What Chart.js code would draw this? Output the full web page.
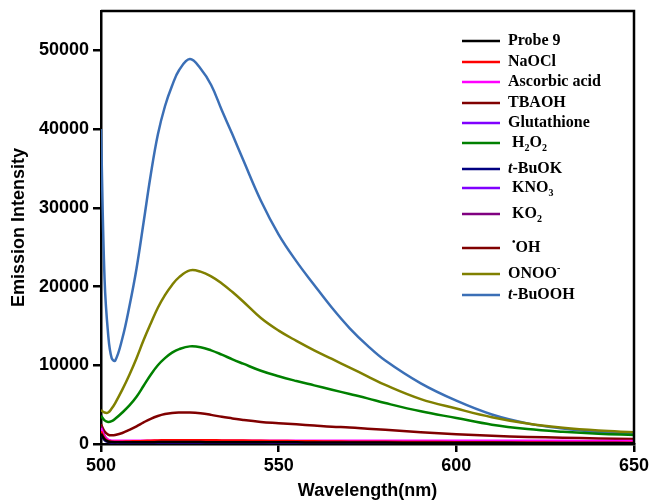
<!DOCTYPE html>
<html>
<head>
<meta charset="utf-8">
<script src="https://cdn.jsdelivr.net/npm/chart.js@4"></script>
<style>
html,body{margin:0;padding:0;background:#fff}
</style>
</head>
<body>
<canvas id="chart" width="649" height="502"></canvas>
<script>

// emission spectra, wavelength in nm
const wavelengths=[500,501,502,503,504,506,508,510,512,514,516,518,520,522,525,528,531,534,537,540,545,550,555,560,565,570,575,580,590,600,610,620,630,640,650]

const probe9=[1300,600,320,250,230,220,220,220,230,230,240,240,240,240,240,240,230,230,230,220,220,210,210,200,200,190,190,180,170,160,150,140,130,120,110]
const naocl=[1600,700,380,300,290,300,320,350,380,420,450,470,480,490,490,480,470,460,440,430,400,380,360,340,320,300,290,270,250,230,210,190,170,160,150]
const ascorbicAcid=[2000,900,520,420,400,400,400,410,410,420,420,420,420,420,420,420,420,420,420,420,420,420,420,420,410,410,410,410,410,400,400,400,400,390,390]
const tbaoh=[1800,800,400,320,300,300,300,300,310,310,310,310,310,310,310,310,300,300,300,300,290,290,280,280,270,270,260,260,250,240,230,220,210,200,190]
const glutathione=[1500,650,330,260,240,240,240,240,240,240,250,250,250,250,250,250,250,240,240,240,240,230,230,230,220,220,220,210,210,200,190,180,180,170,160]
const h2o2=[3600,3000,2800,2900,3200,4000,4900,6000,7400,8800,10000,10900,11600,12050,12400,12300,11900,11350,10750,10200,9300,8600,8000,7450,6900,6350,5800,5200,4150,3300,2450,1900,1550,1300,1150]
const tBuOK=[1200,500,260,200,180,180,180,180,180,190,190,190,190,190,190,190,190,190,180,180,180,180,170,170,170,160,160,160,150,150,140,130,130,120,120]
const kno3=[1700,750,350,270,250,250,250,250,250,260,260,260,260,260,260,260,260,260,250,250,250,250,240,240,240,230,230,230,220,210,200,190,180,180,170]
const ko2=[2200,1000,500,330,300,290,290,290,290,290,290,290,290,290,290,290,290,290,290,280,280,280,280,270,270,270,260,260,250,240,240,230,220,220,210]
const hydroxyl=[2500,1600,1200,1100,1150,1400,1800,2250,2750,3200,3550,3800,3950,4000,4000,3900,3700,3450,3250,3050,2800,2650,2500,2350,2200,2100,1950,1800,1500,1250,1050,900,800,700,640]
const peroxynitrite=[4300,4000,4000,4500,5200,6900,8800,10900,13200,15300,17300,18900,20200,21200,22050,21900,21300,20400,19300,18100,16000,14400,13100,11900,10800,9700,8600,7500,5700,4500,3400,2600,2050,1700,1500]
const tBuOOH=[40000,21000,14000,10900,10600,13400,17500,22300,28200,34200,39300,42900,45500,47500,48900,47700,45600,42400,39300,36100,30900,26600,23200,20200,17300,14700,12500,10600,7700,5500,3750,2620,1960,1520,1250]

const yTicks=[0,10000,20000,30000,40000,50000]
const xTicks=[500,550,600,650]

// legend entries: rich text parts (sub/sup/italic)
const series=[
{label:"Probe 9",data:probe9,color:"#000000",parts:[{t:"Probe 9"}]},
{label:"NaOCl",data:naocl,color:"#ff0000",parts:[{t:"NaOCl"}]},
{label:"Ascorbic acid",data:ascorbicAcid,color:"#ff00ff",parts:[{t:"Ascorbic acid"}]},
{label:"TBAOH",data:tbaoh,color:"#800000",parts:[{t:"TBAOH"}]},
{label:"Glutathione",data:glutathione,color:"#8000ff",parts:[{t:"Glutathione"}]},
{label:"H2O2",data:h2o2,color:"#008000",parts:[{t:" H"},{t:"2",sub:1},{t:"O"},{t:"2",sub:1}]},
{label:"t-BuOK",data:tBuOK,color:"#000080",parts:[{t:"t",it:1},{t:"-BuOK"}]},
{label:"KNO3",data:kno3,color:"#8000ff",parts:[{t:" KNO"},{t:"3",sub:1}]},
{label:"KO2",data:ko2,color:"#800080",parts:[{t:" KO"},{t:"2",sub:1}]},
{label:"•OH",data:hydroxyl,color:"#800000",parts:[{t:" "},{t:"•",sup:1},{t:"OH"}]},
{label:"ONOO-",data:peroxynitrite,color:"#808000",parts:[{t:"ONOO"},{t:"-",sup:1}]},
{label:"t-BuOOH",data:tBuOOH,color:"#3b6fb6",parts:[{t:"t",it:1},{t:"-BuOOH"}]}
]

const legendRowsY=[41,62,82,103,123,143,169,188,214,248,274,295]

const framePlugin={
id:"frame",
afterDatasetsDraw(chart){
let {ctx,chartArea:a}=chart
ctx.save()
ctx.strokeStyle="#000"
ctx.lineWidth=2.5
ctx.beginPath()
ctx.moveTo(a.left,a.top)
ctx.lineTo(a.right,a.top)
ctx.lineTo(a.right,a.bottom)
ctx.stroke()
ctx.restore()
}
}

const legendPlugin={
id:"richLegend",
afterDraw(chart){
let ctx=chart.ctx
ctx.save()
ctx.textBaseline="middle"
ctx.fillStyle="#000"
series.forEach((s,i)=>{
let y=legendRowsY[i]
ctx.strokeStyle=s.color
ctx.lineWidth=2.5
ctx.beginPath()
ctx.moveTo(462,y)
ctx.lineTo(500,y)
ctx.stroke()
let x=508
s.parts.forEach(p=>{
let size=(p.sub||p.sup)?10:16
ctx.font=(p.it?"italic ":"")+"bold "+size+"px 'Liberation Serif'"
let dy=p.sub?5:(p.sup?-6:0)
ctx.fillText(p.t,x,y+dy)
x+=ctx.measureText(p.t).width
})
})
ctx.restore()
}
}

const axisFont={family:"'Liberation Sans'",weight:"bold",size:18}

new Chart(document.getElementById("chart"),{
type:"line",
data:{
labels:wavelengths,
datasets:series.map(s=>({
label:s.label,
data:s.data.map((v,i)=>({x:wavelengths[i],y:v})),
borderColor:s.color,
borderWidth:2.5,
pointRadius:0,
fill:false,
tension:0.4
}))
},
options:{
responsive:false,
animation:false,
layout:{padding:{left:0,top:11,right:15,bottom:0}},
plugins:{legend:{display:false},tooltip:{enabled:false}},
scales:{
x:{
type:"linear",
min:500,
max:650,
afterBuildTicks:axis=>{axis.ticks=xTicks.map(v=>({value:v}))},
afterFit:axis=>{axis.height=58;axis.paddingLeft=0;axis.paddingRight=0},
grid:{drawOnChartArea:false,drawTicks:true,tickLength:8,color:"#000",lineWidth:2.5},
border:{display:true,color:"#000",width:2.5},
ticks:{color:"#000",padding:3,maxRotation:0,font:axisFont,callback:v=>String(v)},
title:{display:true,text:"Wavelength(nm)",color:"#000",padding:{top:0,bottom:0},font:axisFont}
},
y:{
min:0,
max:55000,
afterBuildTicks:axis=>{axis.ticks=yTicks.map(v=>({value:v}))},
afterFit:axis=>{axis.width=101;axis.paddingTop=0;axis.paddingBottom=0},
grid:{drawOnChartArea:false,drawTicks:true,tickLength:8,color:"#000",lineWidth:2.5},
border:{display:true,color:"#000",width:2.5},
ticks:{color:"#000",padding:4,font:axisFont,callback:v=>String(v)},
title:{display:true,text:"Emission Intensity",color:"#000",padding:{top:8,bottom:4},font:axisFont}
}
}
},
plugins:[framePlugin,legendPlugin]
})

</script>
</body>
</html>
